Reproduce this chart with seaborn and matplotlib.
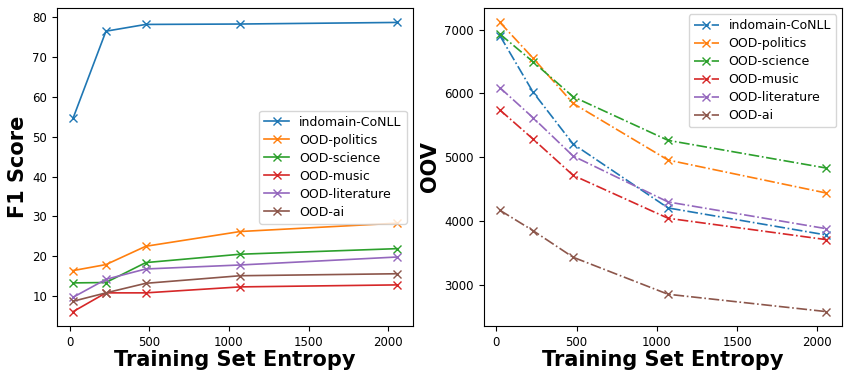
import pandas as pd
import matplotlib
matplotlib.use("Agg")
import matplotlib.pyplot as plt
from matplotlib.ticker import MultipleLocator
import seaborn as sns

entropy = [22, 228, 478, 1070, 2055]
series = ["indomain-CoNLL", "OOD-politics", "OOD-science", "OOD-music", "OOD-literature", "OOD-ai"]

f1_conll = [54.7, 76.5, 78.2, 78.3, 78.7]
f1_politics = [16.4, 17.9, 22.5, 26.2, 28.3]
f1_science = [13.3, 13.4, 18.4, 20.5, 21.9]
f1_music = [6.1, 10.8, 10.8, 12.3, 12.8]
f1_literature = [9.7, 14.2, 16.8, 17.8, 19.8]
f1_ai = [8.7, 10.8, 13.2, 15.1, 15.6]

oov_conll = [6906, 6022, 5207, 4203, 3779]
oov_politics = [7115, 6556, 5844, 4955, 4438]
oov_science = [6932, 6498, 5949, 5264, 4830]
oov_music = [5740, 5285, 4715, 4041, 3706]
oov_literature = [6090, 5620, 5018, 4297, 3878]
oov_ai = [4166, 3847, 3429, 2848, 2576]

f1_vals = [f1_conll, f1_politics, f1_science, f1_music, f1_literature, f1_ai]
oov_vals = [oov_conll, oov_politics, oov_science, oov_music, oov_literature, oov_ai]


def long_df(values, col):
    rows = []
    for name, vals in zip(series, values):
        for x, v in zip(entropy, vals):
            rows.append({"entropy": x, col: v, "dataset": name})
    return pd.DataFrame(rows)


df_f1 = long_df(f1_vals, "f1")
df_oov = long_df(oov_vals, "oov")

fig = plt.figure(figsize=(8.5, 3.8), dpi=100)
ax1 = fig.add_axes([0.067, 0.142, 0.419, 0.837])
ax2 = fig.add_axes([0.569, 0.142, 0.422, 0.837])

sns.lineplot(data=df_f1, x="entropy", y="f1", hue="dataset", hue_order=series,
             palette="tab10", marker="x", markersize=6, mew=1, linewidth=1.2,
             ax=ax1, legend=False)
sns.lineplot(data=df_oov, x="entropy", y="oov", hue="dataset", hue_order=series,
             palette="tab10", marker="x", markersize=6, mew=1, linewidth=1.2,
             linestyle="-.", ax=ax2, legend=False)

# make the x markers take the line colour
for ax in (ax1, ax2):
    for line in ax.get_lines():
        line.set_markeredgecolor(line.get_color())

ax1.legend(ax1.get_lines(), series, loc="center right", fontsize=9, labelspacing=0.4)
ax2.legend(ax2.get_lines(), series, loc="upper right", fontsize=9, labelspacing=0.4)

ax1.set_ylabel("F1 Score", fontsize=15, fontweight="bold", labelpad=3)
ax2.set_ylabel("OOV", fontsize=15, fontweight="bold", labelpad=3)
for ax in (ax1, ax2):
    ax.set_xlabel("Training Set Entropy", fontsize=15, fontweight="bold", labelpad=1)
    ax.xaxis.set_major_locator(MultipleLocator(500))
    ax.tick_params(labelsize=8.5)

fig.savefig("out.png", dpi=100)
